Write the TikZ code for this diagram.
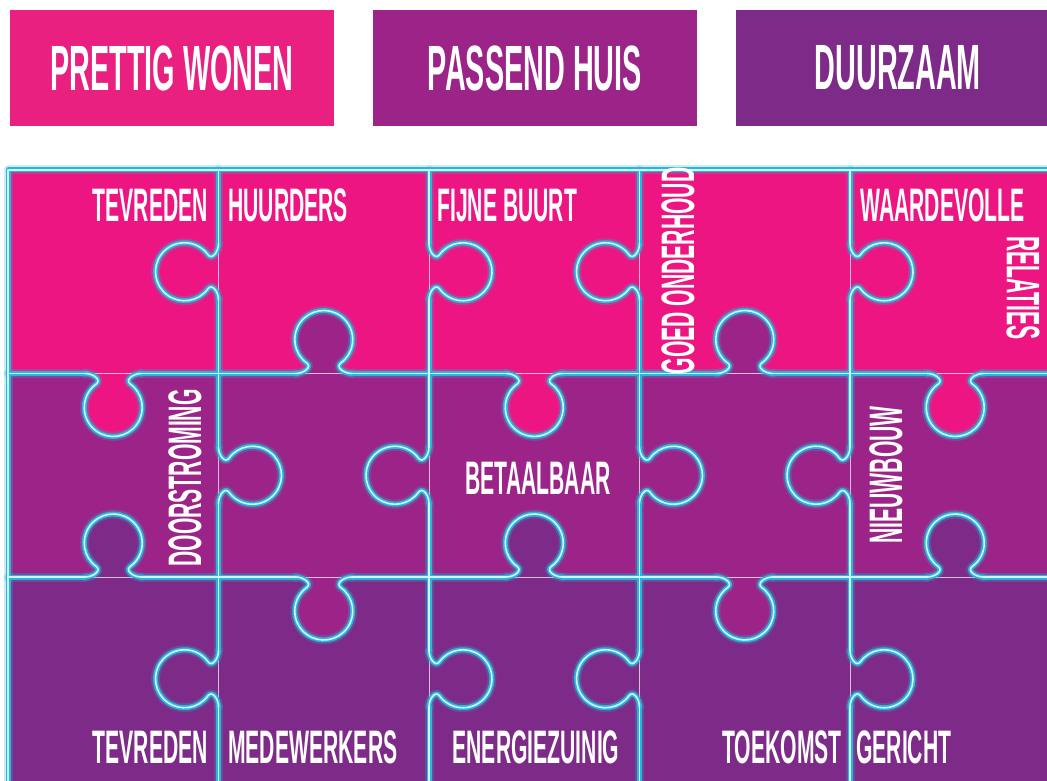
\documentclass[tikz,border=0pt]{standalone}
\usepackage{fontspec}
\newfontfamily\puzzlefont[FakeStretch=0.45]{Liberation Sans}
\usetikzlibrary{positioning}
\definecolor{pzPink}{HTML}{EC1581}
\definecolor{pzHdPink}{HTML}{E9207F}
\definecolor{pzPurple}{HTML}{9C2488}
\definecolor{pzPlum}{HTML}{7D2A88}
\definecolor{pzGlow}{HTML}{2BB6D9}
\definecolor{pzCore}{HTML}{CDF5FB}
\tikzset{
  header/.style={minimum width=324pt, minimum height=116pt, inner sep=0pt, text=white,
    font=\puzzlefont\bfseries\fontsize{64}{64}\selectfont},
  tag/.style={text=white, inner sep=0pt, font=\puzzlefont\bfseries\fontsize{47}{47}\selectfont},
  halo/.style={draw=pzGlow, line width=9pt, opacity=0.25, line cap=round, line join=round},
  glow/.style={draw=pzGlow, line width=5pt, line cap=round, line join=round},
  core/.style={draw=pzCore, line width=1.6pt, line cap=round, line join=round},
  guide/.style={draw=white, line width=0.5pt, opacity=0.7}
}
% one tab of a piece, bulging to local +y
\newcommand{\knob}[4]{%
  \begin{scope}[shift={(#1,#2)}, rotate=#3]
    \path[#4] (-28,0) .. controls (-20,0) and (-11.4,6.4) .. (-17.05,10.54)
      arc[start angle=234, end angle=-54, radius=29]
      .. controls (11.4,6.4) and (20,0) .. (28,0);
  \end{scope}}

\begin{document}
\begin{tikzpicture}[x=1pt, y=1pt]
  \useasboundingbox (0,0) rectangle (1047,780);
  \clip (0,0) rectangle (1047,780);
  \fill[white] (0,0) rectangle (1047,780);

  % headers
  \node[header, fill=pzHdPink] (hdWonen) at (172,712) {PRETTIG WONEN};
  \node[header, fill=pzPurple, right=38.5pt of hdWonen] (hdHuis) {PASSEND HUIS};
  \node[header, fill=pzPlum, right=38.5pt of hdHuis] (hdDuurzaam) {DUURZAAM};

  % rows
  \fill[pzPink] (8,610) rectangle (1060,406.5);
  \fill[pzPurple] (8,406.5) rectangle (1060,203);
  \fill[pzPlum] (8,203) rectangle (1060,-2);

  % tabs between rows
  \foreach \r/\dn/\up in {1/pzPink/pzPurple, 2/pzPurple/pzPlum}{
    \foreach \c in {1,...,5}{
      \pgfmathsetmacro\xx{8+210.5*(\c-0.5)}
      \pgfmathsetmacro\yy{610-203.5*\r}
      \pgfmathtruncatemacro\down{iseven(\c+\r)}
      \ifnum\down=1 \knob{\xx}{\yy}{180}{fill=\dn}\else \knob{\xx}{\yy}{0}{fill=\up}\fi
    }
  }

  % faint cut lines
  \foreach \c in {1,...,4}{\draw[guide] (8+210.5*\c,610) -- (8+210.5*\c,-2);}
  \foreach \r in {1,2}{\draw[guide] (8,610-203.5*\r) -- (1060,610-203.5*\r);}

  % outlines
  \foreach \ln in {halo,glow,core}{
    \draw[\ln] (1060,610) -- (8,610) -- (8,-4);
    \foreach \c in {1,...,4}{
      \foreach \r in {1,2,3}{
        \pgfmathsetmacro\xx{8+210.5*\c}
        \pgfmathsetmacro\yt{610-203.5*(\r-1)}
        \pgfmathsetmacro\ym{610-203.5*(\r-0.5)}
        \pgfmathsetmacro\yb{610-203.5*\r}
        \pgfmathsetmacro\ang{iseven(\c+\r) ? 90 : -90}
        \draw[\ln] (\xx,\yt) -- (\xx,\ym+28);
        \draw[\ln] (\xx,\ym-28) -- (\xx,\yb);
        \knob{\xx}{\ym}{\ang}{\ln}
      }
    }
    \foreach \r in {1,2}{
      \foreach \c in {1,...,5}{
        \pgfmathsetmacro\xl{8+210.5*(\c-1)}
        \pgfmathsetmacro\xm{8+210.5*(\c-0.5)}
        \pgfmathsetmacro\xr{8+210.5*\c}
        \pgfmathsetmacro\yy{610-203.5*\r}
        \pgfmathsetmacro\ang{iseven(\c+\r) ? 180 : 0}
        \draw[\ln] (\xl,\yy) -- (\xm-28,\yy);
        \draw[\ln] (\xm+28,\yy) -- (\xr,\yy);
        \knob{\xm}{\yy}{\ang}{\ln}
      }
    }
  }

  % labels
  \node[tag, anchor=base east] (lbTevredenA) at (208,558) {TEVREDEN};
  \node[tag, anchor=base west] (lbHuurders) at (228,558) {HUURDERS};
  \node[tag, anchor=base west] (lbBuurt) at (437,558) {FIJNE BUURT};
  \node[tag, rotate=90] (lbOnderhoud) at (678,509) {GOED ONDERHOUD};
  \node[tag, anchor=base west] (lbWaardevolle) at (860,558) {WAARDEVOLLE};
  \node[tag, rotate=-90] (lbRelaties) at (1023,492) {RELATIES};
  \node[tag, rotate=90] (lbDoorstroming) at (185,302) {DOORSTROMING};
  \node[tag] (lbBetaalbaar) at (538,302) {BETAALBAAR};
  \node[tag, rotate=90] (lbNieuwbouw) at (886,305) {NIEUWBOUW};
  \node[tag, anchor=base east] (lbTevredenB) at (208,17) {TEVREDEN};
  \node[tag, anchor=base west] (lbMedewerkers) at (228,17) {MEDEWERKERS};
  \node[tag, anchor=base] (lbEnergie) at (536,17) {ENERGIEZUINIG};
  \node[tag, anchor=base east] (lbToekomst) at (842,17) {TOEKOMST};
  \node[tag, anchor=base west] (lbGericht) at (856,17) {GERICHT};
\end{tikzpicture}
\end{document}
